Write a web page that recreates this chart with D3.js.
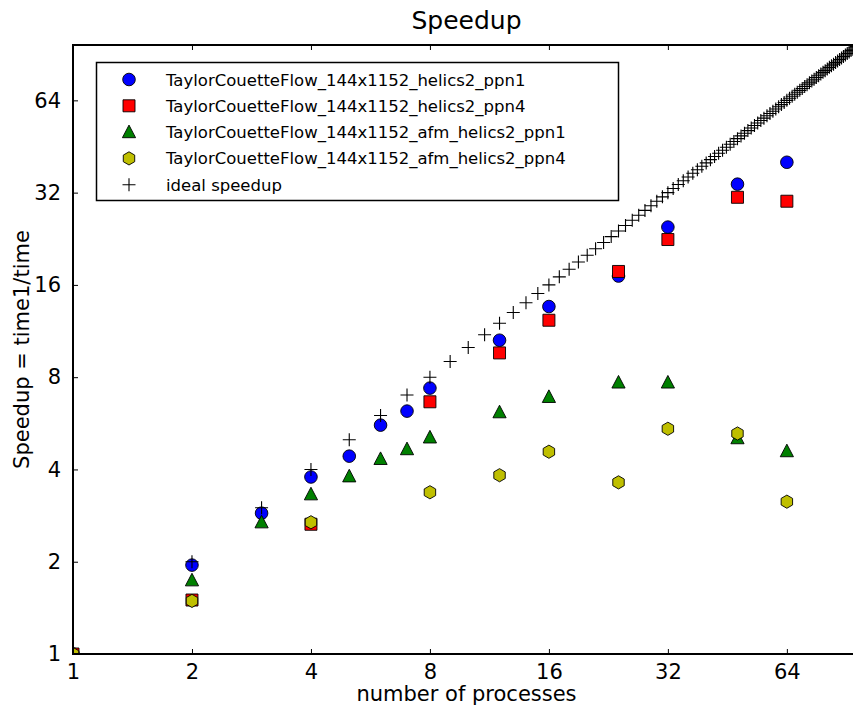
<!DOCTYPE html>
<html>
<head>
<meta charset="utf-8">
<script src="https://cdn.jsdelivr.net/npm/d3@7"></script>
<style>
  body { margin: 0; background: #fff; }
  svg { font-family: "DejaVu Sans", sans-serif; }
</style>
</head>
<body>
<div id="chart"></div>
<script>
// processes (x) for each run
const procsPpn1 = [1, 2, 3, 4, 5, 6, 7, 8, 12, 16, 24, 32, 48, 64];
const procsPpn4 = [1, 2, 4, 8, 12, 16, 24, 32, 48, 64];

// speedup values
const helicsPpn1 = [1, 1.95, 2.88, 3.78, 4.42, 5.58, 6.2, 7.37, 10.56, 13.6, 17.1, 24.7, 34.1, 40.2];
const helicsPpn4 = [1, 1.50, 2.65, 6.65, 9.6, 12.27, 17.7, 22.5, 30.9, 30.0];
const afmPpn1 = [1, 1.74, 2.69, 3.32, 3.80, 4.33, 4.66, 5.09, 6.15, 6.90, 7.69, 7.69, 5.06, 4.59];
const afmPpn4 = [1, 1.49, 2.69, 3.37, 3.83, 4.57, 3.63, 5.43, 5.24, 3.14];

// ideal speedup: one marker per process count
const idealProcs = [1, 2, 3, 4, 5, 6, 7, 8, 9, 10, 11, 12, 13, 14, 15, 16, 17, 18, 19, 20,
  21, 22, 23, 24, 25, 26, 27, 28, 29, 30, 31, 32, 33, 34, 35, 36, 37, 38, 39, 40,
  41, 42, 43, 44, 45, 46, 47, 48, 49, 50, 51, 52, 53, 54, 55, 56, 57, 58, 59, 60,
  61, 62, 63, 64, 65, 66, 67, 68, 69, 70, 71, 72, 73, 74, 75, 76, 77, 78, 79, 80,
  81, 82, 83, 84, 85, 86, 87, 88, 89, 90, 91, 92, 93, 94, 95, 96];

const tickValues = [1, 2, 4, 8, 16, 32, 64];

const seriesNames = [
  "TaylorCouetteFlow_144x1152_helics2_ppn1",
  "TaylorCouetteFlow_144x1152_helics2_ppn4",
  "TaylorCouetteFlow_144x1152_afm_helics2_ppn1",
  "TaylorCouetteFlow_144x1152_afm_helics2_ppn4",
  "ideal speedup"
];

const width = 853,
  height = 710,
  plotLeft = 73,
  plotRight = 860,
  plotTop = 45,
  plotBottom = 654;

const x = d3.scaleLog().base(2).domain([1, 98]).range([plotLeft, plotRight]);
const y = d3.scaleLog().base(2).domain([1, 97]).range([plotBottom, plotTop]);

// marker shapes, matplotlib-like
const shapes = {
  circle: d3.arc()({ innerRadius: 0, outerRadius: 6.3, startAngle: 0, endAngle: 2 * Math.PI }),
  square: "M-6,-6H6V6H-6Z",
  triangle: "M0,-7L6.6,5.6H-6.6Z",
  hexagon: (() => {
    const r = 6.6;
    return "M" + d3.range(6).map(i => {
      const a = Math.PI / 3 * i - Math.PI / 2;
      return [r * Math.cos(a), r * Math.sin(a)];
    }).join("L") + "Z";
  })(),
  plus: "M-6.5,0H6.5M0,-6.5V6.5"
};

const series = [
  { name: seriesNames[0], xs: procsPpn1, ys: helicsPpn1, shape: "circle", fill: "#0000ff" },
  { name: seriesNames[1], xs: procsPpn4, ys: helicsPpn4, shape: "square", fill: "#ff0000" },
  { name: seriesNames[2], xs: procsPpn1, ys: afmPpn1, shape: "triangle", fill: "#008000" },
  { name: seriesNames[3], xs: procsPpn4, ys: afmPpn4, shape: "hexagon", fill: "#bfbf00" },
  { name: seriesNames[4], xs: idealProcs, ys: idealProcs, shape: "plus", fill: "none" }
];

const svg = d3.select("#chart")
  .append("svg")
  .attr("width", width)
  .attr("height", height);

svg.append("clipPath")
  .attr("id", "plot-clip")
  .append("rect")
  .attr("x", plotLeft)
  .attr("y", plotTop)
  .attr("width", plotRight - plotLeft)
  .attr("height", plotBottom - plotTop);

const plot = svg.append("g").attr("clip-path", "url(#plot-clip)");

for (const s of series) {
  plot.append("g")
    .selectAll("path")
    .data(s.xs.map((v, i) => [v, s.ys[i]]))
    .join("path")
    .attr("transform", d => `translate(${x(d[0])},${y(d[1])})`)
    .attr("d", shapes[s.shape])
    .attr("fill", s.fill)
    .attr("stroke", "#000")
    .attr("stroke-width", s.shape === "plus" ? 1.1 : 0.9);
}

// axes, ticks pointing inward on all four sides
const fmt = d => d3.format("d")(d);
const tickLen = 5;

svg.append("g")
  .attr("transform", `translate(0,${plotBottom})`)
  .call(d3.axisBottom(x).tickValues(tickValues).tickFormat(fmt).tickSizeInner(-tickLen).tickSizeOuter(0).tickPadding(10))
  .call(g => g.select(".domain").remove());

svg.append("g")
  .attr("transform", `translate(0,${plotTop})`)
  .call(d3.axisTop(x).tickValues(tickValues).tickFormat("").tickSizeInner(-tickLen).tickSizeOuter(0))
  .call(g => g.select(".domain").remove());

svg.append("g")
  .attr("transform", `translate(${plotLeft},0)`)
  .call(d3.axisLeft(y).tickValues(tickValues).tickFormat(fmt).tickSizeInner(-tickLen).tickSizeOuter(0).tickPadding(12))
  .call(g => g.select(".domain").remove());

svg.append("g")
  .attr("transform", `translate(${plotRight},0)`)
  .call(d3.axisRight(y).tickValues(tickValues).tickFormat("").tickSizeInner(-tickLen).tickSizeOuter(0))
  .call(g => g.select(".domain").remove());

svg.selectAll(".tick text")
  .attr("font-family", "DejaVu Sans, sans-serif")
  .attr("font-size", 21)
  .attr("fill", "#000");
svg.selectAll(".tick line").attr("stroke", "#000").attr("stroke-width", 1);

svg.append("rect")
  .attr("x", plotLeft)
  .attr("y", plotTop)
  .attr("width", plotRight - plotLeft)
  .attr("height", plotBottom - plotTop)
  .attr("fill", "none")
  .attr("stroke", "#000")
  .attr("stroke-width", 2);

// legend
const legend = svg.append("g");
legend.append("rect")
  .attr("x", 96.5)
  .attr("y", 62.5)
  .attr("width", 522)
  .attr("height", 138)
  .attr("fill", "#fff")
  .attr("stroke", "#000")
  .attr("stroke-width", 1.5);

const rows = legend.selectAll("g.row")
  .data(series)
  .join("g")
  .attr("class", "row")
  .attr("transform", (d, i) => `translate(129,${79.5 + i * 26.3})`);

rows.append("path")
  .attr("d", d => shapes[d.shape])
  .attr("fill", d => d.fill)
  .attr("stroke", "#000")
  .attr("stroke-width", d => d.shape === "plus" ? 1.1 : 0.9);

rows.append("text")
  .attr("x", 37)
  .attr("y", 6)
  .attr("font-size", 16.5)
  .text(d => d.name);

// titles
svg.append("text")
  .attr("x", (plotLeft + plotRight) / 2)
  .attr("y", 29)
  .attr("text-anchor", "middle")
  .attr("font-size", 25)
  .text("Speedup");

svg.append("text")
  .attr("x", (plotLeft + plotRight) / 2)
  .attr("y", 701)
  .attr("text-anchor", "middle")
  .attr("font-size", 21)
  .text("number of processes");

svg.append("text")
  .attr("transform", `translate(29,${(plotTop + plotBottom) / 2}) rotate(-90)`)
  .attr("text-anchor", "middle")
  .attr("font-size", 21)
  .text("Speedup = time1/time");
</script>
</body>
</html>
